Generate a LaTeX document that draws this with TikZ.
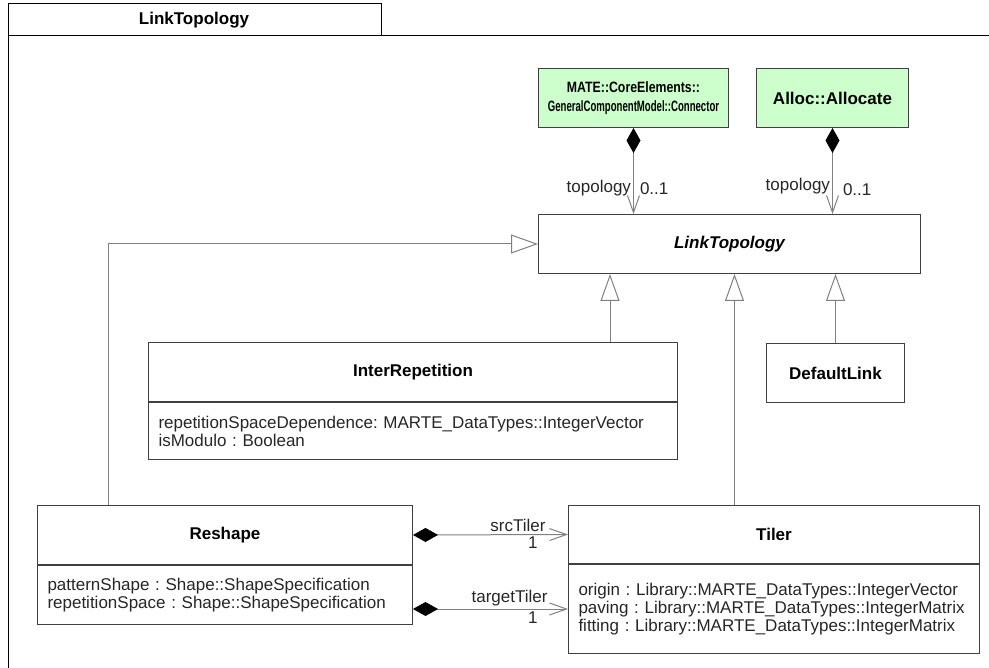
\documentclass[tikz,border=0pt]{standalone}
\usepackage{fontspec}
\usepackage{graphicx}
\setmainfont{Liberation Sans}
\usetikzlibrary{shapes}
\usetikzlibrary{arrows.meta}
\usetikzlibrary{positioning}
\usetikzlibrary{calc}

\definecolor{stereogreen}{HTML}{CCFFCC}
\frenchspacing

\begin{document}
\begin{tikzpicture}[x=1pt, y=-1pt, font=\fontsize{17}{18}\selectfont]
\tikzstyle{classbox} = [rectangle, draw=black!75, line width=1pt, anchor=north west,
inner sep=0pt, align=center, font=\fontsize{17}{19}\selectfont\bfseries]
\tikzstyle{stereo} = [classbox, fill=stereogreen]
\tikzstyle{attrbox} = [rectangle, draw=black!75, line width=1pt, inner xsep=10pt,
inner ysep=0pt, align=left, text=black!85]
\tikzstyle{gen} = [draw=black!50, line width=1pt, -{Triangle[open, length=27pt, width=19pt, fill=white]}]
\tikzstyle{comp} = [draw=black!50, line width=1pt,
{Diamond[length=25pt, width=14pt, fill=black, color=black]}-{Straight Barb[length=17pt, width=12pt]}]
\tikzstyle{role} = [text=black!85, inner sep=2pt]
\useasboundingbox (0,0) rectangle (989,668);
% frame
\draw[line width=1pt] (8,668) -- (8,4) -- (381,4) -- (381,36);
\draw[line width=1pt] (8,36) -- (989,36);
\node[font=\fontsize{17}{18}\selectfont\bfseries] (frametitle) at (194,20) {LinkTopology};
% row 1
\node[stereo, minimum width=190, minimum height=59, font=\fontsize{15}{19}\selectfont\bfseries] (conn) at (538,68)
{\scalebox{0.82}[1]{MATE::CoreElements::}\\\scalebox{0.64}[1]{GeneralComponentModel::Connector}};
\node[stereo, minimum width=152, minimum height=59] (alloc) at (756,68) {Alloc::Allocate};
% row 2
\node[classbox, minimum width=382, minimum height=59, font=\fontsize{17}{18}\selectfont\bfseries\itshape]
(ltopo) at (538,214) {LinkTopology};
% row 3
\node[classbox, minimum width=529, minimum height=59] (interrep) at (148,342) {InterRepetition};
\node[attrbox, below=0pt of interrep, text width=509, minimum height=57] (interrepattr)
{repetitionSpaceDependence: MARTE\_DataTypes::IntegerVector\\isModulo : Boolean};
\node[classbox, minimum width=138, minimum height=59] (deflink) at (766,343) {DefaultLink};
% row 4
\node[classbox, minimum width=375, minimum height=59] (reshape) at (37,505) {Reshape};
\node[attrbox, below=0pt of reshape, text width=355, minimum height=59] (reshapeattr)
{patternShape : Shape::ShapeSpecification\\repetitionSpace : Shape::ShapeSpecification};
\node[classbox, minimum width=411, minimum height=58] (tiler) at (568,505) {Tiler};
\node[attrbox, below=0pt of tiler, text width=391, minimum height=89] (tilerattr)
{origin : Library::MARTE\_DataTypes::IntegerVector\\paving : Library::MARTE\_DataTypes::IntegerMatrix\\fitting : Library::MARTE\_DataTypes::IntegerMatrix};

\coordinate (g1) at ($(ltopo.south west)+(72,0)$);
\coordinate (g2) at ($(ltopo.south)+(5,0)$);
\draw[comp] (conn.south) -- node[role, pos=0.7, left] {topology} node[role, pos=0.7, right, xshift=4pt] {0..1} (conn.south |- ltopo.north);
\draw[comp] (alloc.south) -- node[role, pos=0.68, left] {topology} node[role, pos=0.72, right, xshift=8pt] {0..1} (alloc.south |- ltopo.north);
\draw[gen] (g1 |- interrep.north) -- (g1);
\draw[gen] (deflink.north) -- (deflink.north |- ltopo.south);
\draw[gen] (g2 |- tiler.north) -- (g2);
\draw[gen] ($(reshape.north west)+(71,0)$) |- (ltopo.west);
\draw[comp] (reshape.east) -- node[role, pos=1, above left, xshift=-20pt] {srcTiler} node[role, pos=1, below left, xshift=-28pt] {1} (tiler.west);
\draw[comp] (reshapeattr.east |- tilerattr.west) -- node[role, pos=1, above left, xshift=-18pt] {targetTiler} node[role, pos=1, below left, xshift=-28pt] {1} (tilerattr.west);
\end{tikzpicture}
\end{document}
